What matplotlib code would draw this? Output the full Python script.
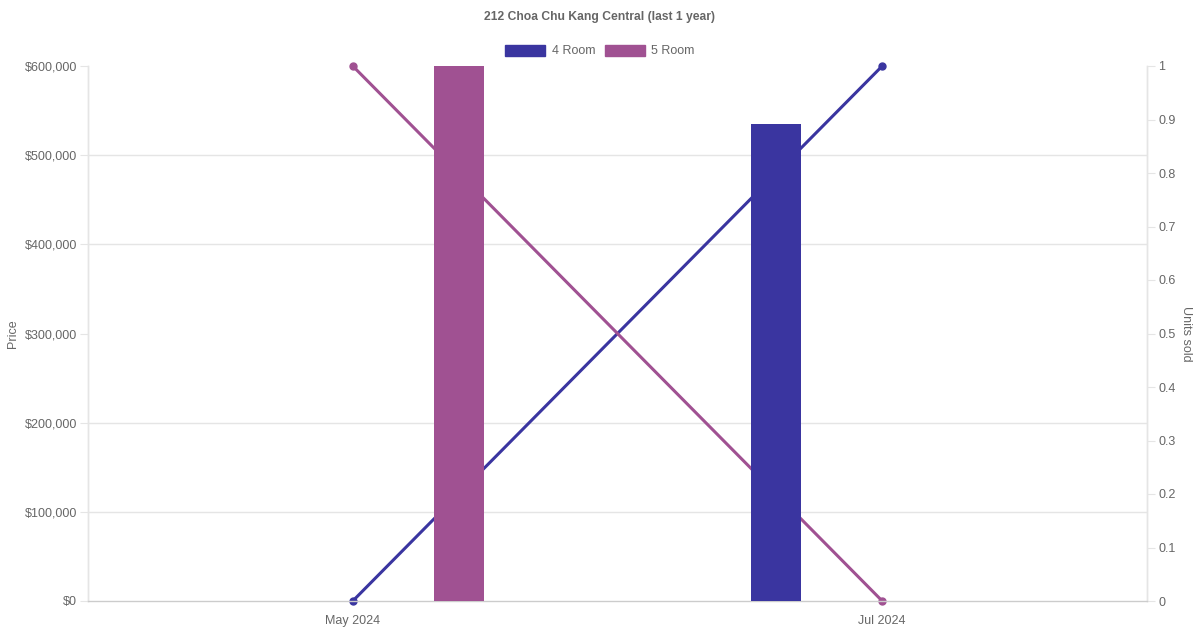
import matplotlib
matplotlib.use('Agg')
import matplotlib.pyplot as plt
from matplotlib.patches import Patch
from matplotlib.ticker import FuncFormatter

# 数据
months = ['May 2024', 'Jul 2024']
room_types = ['4 Room', '5 Room']
price_4room = [None, 535000]
price_5room = [600000, None]
units_4room = [0, 1]
units_5room = [1, 0]
price_ticks = [0, 100000, 200000, 300000, 400000, 500000, 600000]
unit_ticks = [0, 0.1, 0.2, 0.3, 0.4, 0.5, 0.6, 0.7, 0.8, 0.9, 1]
price_max = 600000

c4 = '#3A35A0'
c5 = '#A05192'
grid_c = '#E5E5E5'
text_c = '#666666'

plt.rcParams['font.family'] = ['Liberation Sans', 'DejaVu Sans']

fig = plt.figure(figsize=(12, 6.3), dpi=100)
ax = fig.add_axes([88 / 1200, 29 / 630, 1059 / 1200, 535 / 630])
ax2 = ax.twinx()

x = list(range(len(months)))
bar_w = 50 / 529.5
offset = 0.2

# 柱状图 (价格)
x4 = [i - offset for i, v in zip(x, price_4room) if v is not None]
y4 = [v for v in price_4room if v is not None]
x5 = [i + offset for i, v in zip(x, price_5room) if v is not None]
y5 = [v for v in price_5room if v is not None]
ax.bar(x4, y4, width=bar_w, color=c4, zorder=3)
ax.bar(x5, y5, width=bar_w, color=c5, zorder=3)

# 折线图 (成交数量)
ax2.plot(x, units_4room, color=c4, lw=2.2, marker='o', ms=5, zorder=2, clip_on=False)
ax2.plot(x, units_5room, color=c5, lw=2.2, marker='o', ms=5, zorder=2, clip_on=False)
# 柱子在折线上面
ax.set_zorder(ax2.get_zorder() + 1)
ax.patch.set_visible(False)

ax.set_xlim(-0.5, 1.5)
ax.set_ylim(0, price_max)
ax2.set_ylim(0, 1)
ax.set_xticks(x)
ax.set_xticklabels(months)
ax.set_yticks(price_ticks)
ax.yaxis.set_major_formatter(FuncFormatter(lambda v, p: f'${v:,.0f}'))
ax2.set_yticks(unit_ticks)
ax2.yaxis.set_major_formatter(FuncFormatter(lambda v, p: f'{v:g}'))

# 网格线画在最底层的轴上（价格刻度位置）
ax2.set_yticks([p / price_max for p in price_ticks], minor=True)
ax2.grid(axis='y', which='minor', color=grid_c, lw=1, zorder=0)
ax2.tick_params(axis='y', which='minor', length=0)

ax.tick_params(axis='y', length=6, color=grid_c, labelcolor=text_c, labelsize=9, pad=2)
ax.tick_params(axis='x', length=0, labelcolor=text_c, labelsize=9, pad=10)
ax2.tick_params(axis='y', which='major', length=6, color=grid_c, labelcolor=text_c, labelsize=9, pad=2)

for a in (ax, ax2):
    for s in a.spines.values():
        s.set_color(grid_c)
        s.set_linewidth(1)
    a.spines['top'].set_visible(False)
ax.spines['bottom'].set_color('#CCCCCC')
ax2.spines['bottom'].set_visible(False)

ax.set_ylabel('Price', color=text_c, fontsize=9, labelpad=4)
ax2.set_ylabel('Units sold', color=text_c, fontsize=9, rotation=270, labelpad=12)

fig.text(0.5, 1 - 17 / 630, '212 Choa Chu Kang Central (last 1 year)', ha='center', va='center',
         fontsize=8.7, fontweight='bold', color=text_c)

handles = [Patch(facecolor=c4, edgecolor=c4), Patch(facecolor=c5, edgecolor=c5)]
fig.legend(handles, room_types, loc='center', bbox_to_anchor=(0.5, 1 - 51 / 630), ncol=2,
           frameon=False, fontsize=9, labelcolor=text_c, handlelength=3.2, handleheight=1.0,
           handletextpad=0.5, columnspacing=0.8)

fig.savefig('out.png', dpi=100)
